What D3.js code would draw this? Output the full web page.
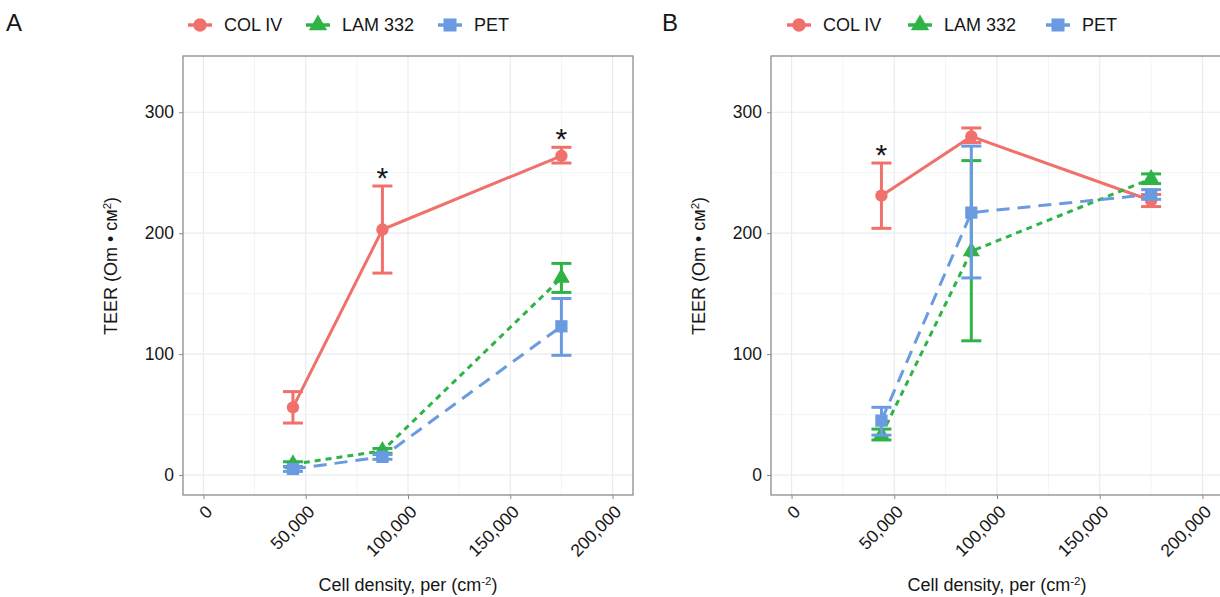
<!DOCTYPE html>
<html>
<head>
<meta charset="utf-8">
<script src="https://cdn.jsdelivr.net/npm/d3@7"></script>
<style>
body { margin: 0; background: #fff; }
svg { display: block; font-family: "Liberation Sans", Arial, sans-serif; }
</style>
</head>
<body>
<svg id="chart" width="1220" height="597"></svg>
<script>
// data
var seriesNames = ["COL IV", "LAM 332", "PET"];
var seriesColors = ["#f0716c", "#2fb347", "#6a9be0"];
var density = [43750, 87500, 175000];
var xTicks = [0, 50000, 100000, 150000, 200000];
var yTicks = [0, 100, 200, 300];

// panel A
var aColMean = [56, 203, 264], aColLo = [43, 167, 258], aColHi = [69, 239, 271];
var aLamMean = [9, 20, 163], aLamLo = [7, 18, 151], aLamHi = [11, 22, 175];
var aPetMean = [5, 15, 123], aPetLo = [3, 13, 99], aPetHi = [7, 17, 146];
var aStars = [1, 2]; // index into density, COL IV

// panel B
var bColMean = [231, 280, 227], bColLo = [204, 275, 222], bColHi = [258, 287, 232];
var bLamMean = [33, 185, 245], bLamLo = [29, 111, 241], bLamHi = [38, 260, 249];
var bPetMean = [45, 217, 232], bPetLo = [33, 163, 228], bPetHi = [56, 272, 236];
var bStars = [0];

var svg = d3.select("#chart");
var dashes = [null, "6,5", "13,8"];
var symbols = [d3.symbolCircle, d3.symbolTriangle, d3.symbolSquare];
var symSizes = [120, 125, 150];
var fmt = d3.format(",");
var ink = "#161616";

function drawPanel(letter, left, right, legendX, means, los, his, stars) {
	var top = 56, bottom = 495;
	var x = d3.scaleLinear().domain([-10000, 210000]).range([left, right]);
	var y = d3.scaleLinear().domain([-16.5, 346.5]).range([bottom, top]);
	var g = svg.append("g");

	// grid
	var xMinor = [25000, 75000, 125000, 175000];
	var yMinor = [50, 150, 250];
	g.selectAll("line.xminor").data(xMinor).enter().append("line")
		.attr("x1", d => x(d)).attr("x2", d => x(d)).attr("y1", top).attr("y2", bottom)
		.attr("stroke", "#f3f4f5").attr("stroke-width", 1);
	g.selectAll("line.yminor").data(yMinor).enter().append("line")
		.attr("y1", d => y(d)).attr("y2", d => y(d)).attr("x1", left).attr("x2", right)
		.attr("stroke", "#f3f4f5").attr("stroke-width", 1);
	g.selectAll("line.xmajor").data(xTicks).enter().append("line")
		.attr("x1", d => x(d)).attr("x2", d => x(d)).attr("y1", top).attr("y2", bottom)
		.attr("stroke", "#e9ebec").attr("stroke-width", 1.2);
	g.selectAll("line.ymajor").data(yTicks).enter().append("line")
		.attr("y1", d => y(d)).attr("y2", d => y(d)).attr("x1", left).attr("x2", right)
		.attr("stroke", "#e9ebec").attr("stroke-width", 1.2);

	// axes
	var xAxis = d3.axisBottom(x).tickValues(xTicks).tickSize(4).tickFormat("");
	var yAxis = d3.axisLeft(y).tickValues(yTicks).tickSize(4);
	var ga = g.append("g").attr("transform", "translate(0," + bottom + ")").call(xAxis);
	ga.select(".domain").remove();
	ga.selectAll("line").attr("stroke", "#888");
	var gy = g.append("g").attr("transform", "translate(" + left + ",0)").call(yAxis);
	gy.select(".domain").remove();
	gy.selectAll("line").attr("stroke", "#888");
	gy.selectAll("text").attr("x", -9).attr("font-size", 17.5).attr("fill", ink)
		.attr("font-family", "Liberation Sans, Arial, sans-serif");

	g.selectAll("text.xlab").data(xTicks).enter().append("text")
		.attr("transform", d => "translate(" + (x(d) + 1) + "," + (bottom + 9) + ") rotate(-45)")
		.attr("text-anchor", "end").attr("dy", "0.72em")
		.attr("font-size", 17.5).attr("fill", ink).text(d => fmt(d));

	g.append("rect").attr("x", left).attr("y", top).attr("width", right - left).attr("height", bottom - top)
		.attr("fill", "none").attr("stroke", "#8c8c8c").attr("stroke-width", 1.3);

	// series
	var line = d3.line().x(d => x(d.x)).y(d => y(d.y));
	means.forEach(function (m, s) {
		var pts = density.map((dx, i) => ({x: dx, y: m[i], lo: los[s][i], hi: his[s][i]}));
		var sg = g.append("g");
		sg.append("path").datum(pts).attr("d", line).attr("fill", "none")
			.attr("stroke", seriesColors[s]).attr("stroke-width", 3)
			.attr("stroke-dasharray", dashes[s]);
		var eb = sg.selectAll("g.eb").data(pts).enter().append("g")
			.attr("stroke", seriesColors[s]).attr("stroke-width", 3);
		eb.append("line").attr("x1", d => x(d.x)).attr("x2", d => x(d.x))
			.attr("y1", d => y(d.lo)).attr("y2", d => y(d.hi));
		eb.append("line").attr("x1", d => x(d.x) - 10).attr("x2", d => x(d.x) + 10)
			.attr("y1", d => y(d.lo)).attr("y2", d => y(d.lo));
		eb.append("line").attr("x1", d => x(d.x) - 10).attr("x2", d => x(d.x) + 10)
			.attr("y1", d => y(d.hi)).attr("y2", d => y(d.hi));
		sg.selectAll("path.pt").data(pts).enter().append("path")
			.attr("d", d3.symbol().type(symbols[s]).size(symSizes[s]))
			.attr("transform", d => "translate(" + x(d.x) + "," + y(d.y) + ")")
			.attr("fill", seriesColors[s]);
	});

	// significance
	g.selectAll("text.star").data(stars).enter().append("text")
		.attr("x", i => x(density[i])).attr("y", i => y(his[0][i]) + 2)
		.attr("text-anchor", "middle").attr("font-size", 30).attr("fill", ink).text("*");

	// titles
	g.append("text").attr("transform", "translate(" + (left - 66) + "," + 266 + ") rotate(-90)")
		.attr("text-anchor", "middle").attr("font-size", 18).attr("fill", ink)
		.html('TEER (Om • cм<tspan dy="-6" font-size="11.5">2</tspan><tspan dy="6">)</tspan>');
	g.append("text").attr("x", (x(0) + x(200000)) / 2).attr("y", 591)
		.attr("text-anchor", "middle").attr("font-size", 18).attr("fill", ink)
		.html('Cell density, per (cm<tspan dy="-6" font-size="11.5">-2</tspan><tspan dy="6">)</tspan>');

	// legend
	var lg = g.append("g");
	legendX.forEach(function (cx, s) {
		lg.append("line").attr("x1", cx - 12).attr("x2", cx + 12).attr("y1", 25).attr("y2", 25)
			.attr("stroke", seriesColors[s]).attr("stroke-width", 3.5);
		lg.append("path").attr("d", d3.symbol().type(symbols[s]).size(symSizes[s] + 20)())
			.attr("transform", "translate(" + cx + ",25)").attr("fill", seriesColors[s]);
		lg.append("text").attr("x", cx + 24).attr("y", 31).attr("font-size", 18)
			.attr("fill", ink).text(seriesNames[s]);
	});
	svg.append("text").attr("x", letter == "A" ? 6 : 662).attr("y", 31)
		.attr("font-size", 24).attr("fill", ink).text(letter);
}

drawPanel("A", 183, 633, [200, 318, 450],
	[aColMean, aLamMean, aPetMean], [aColLo, aLamLo, aPetLo], [aColHi, aLamHi, aPetHi], aStars);
drawPanel("B", 771, 1223, [799, 920, 1058],
	[bColMean, bLamMean, bPetMean], [bColLo, bLamLo, bPetLo], [bColHi, bLamHi, bPetHi], bStars);
</script>
</body>
</html>
